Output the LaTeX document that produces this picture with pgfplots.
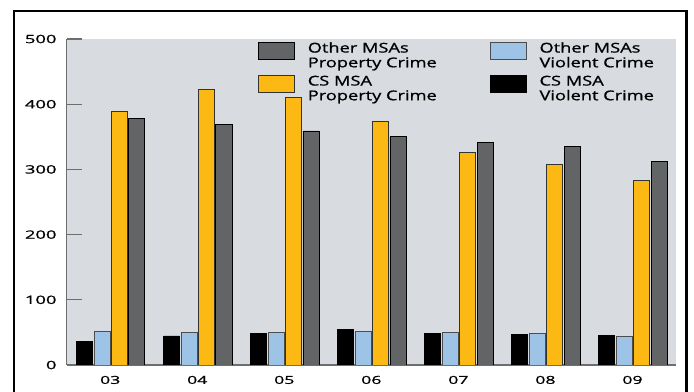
\documentclass[border=0pt]{standalone}
\usepackage{pgfplots}
\pgfplotsset{compat=1.18}
\usepackage{fontspec}
\setmainfont{Open Sans}[FakeStretch=1.35,FakeBold=1.0]
\newfontfamily\tickfont{Open Sans}[FakeStretch=1.6,FakeBold=1.0]
\definecolor{bgc}{RGB}{216,220,224}
\definecolor{cgray}{RGB}{99,100,102}
\definecolor{cyel}{RGB}{252,185,20}
\definecolor{cblue}{RGB}{157,195,230}
\definecolor{axc}{RGB}{110,110,110}
\pgfplotsset{mylegend/.style={legend image code/.code={\draw[##1] (0bp,-4bp) rectangle (36bp,13bp);}}}
\begin{document}
\begin{tikzpicture}
\useasboundingbox (-66.7bp,-27bp) rectangle (627.3bp,365bp);
\begin{axis}[
  at={(0,0)}, anchor=south west,
  scale only axis, width=609.3bp, height=326bp,
  xmin=-0.5, xmax=6.5, ymin=0, ymax=500,
  axis lines=left, axis line style={-, draw=axc, line width=1.2bp},
  axis background/.style={fill=bgc},
  tick align=inside,
  ytick={0,100,...,500},
  ytick style={draw=axc, line width=1.2bp},
  major tick length=15bp,
  yticklabel style={inner sep=0pt, xshift=-10bp, font=\fontsize{11.5bp}{13bp}\tickfont},
  xtick={0,...,6},
  xticklabels={03,04,05,06,07,08,09},
  xtick style={draw=none},
  xticklabel style={inner sep=0pt, yshift=-10.7bp, font=\fontsize{11bp}{13bp}\tickfont},
  extra x ticks={0.5,1.5,...,6.5},
  extra x tick labels={},
  extra x tick style={major tick length=8bp, tick style={draw=axc, line width=1.2bp}},
  /pgf/number format/assume math mode=true,
  legend columns=2,
  legend style={at={(rel axis cs:0.314,0.996)}, anchor=north west, draw=none, fill=none,
    inner sep=0pt, outer sep=0pt, font=\fontsize{13.5bp}{14.7bp}\selectfont,
    cells={align=left, inner sep=0pt},
    /tikz/every odd column/.append style={column sep=11bp},
    /tikz/every even column/.append style={column sep=51bp},
    row sep=3bp},
  legend cell align=left,
]
\addplot[ybar, bar width=0.184, bar shift=0.306, fill=cgray, draw=black, line width=0.8bp, mylegend]
  coordinates {(0,378.4) (1,369) (2,359) (3,350) (4,341.5) (5,335) (6,312)};
\addlegendentry{Other MSAs\\Property Crime}
\addplot[ybar, bar width=0.184, bar shift=-0.094, fill=cblue, draw=black!70, line width=0.8bp, mylegend]
  coordinates {(0,52) (1,50) (2,50.6) (3,51.7) (4,50) (5,48.6) (6,44)};
\addlegendentry{Other MSAs\\Violent Crime}
\addplot[ybar, bar width=0.184, bar shift=0.105, fill=cyel, draw=black!80, line width=0.8bp, mylegend]
  coordinates {(0,388.5) (1,423) (2,410) (3,373) (4,326) (5,308) (6,283)};
\addlegendentry{CS MSA\\Property Crime}
\addplot[ybar, bar width=0.184, bar shift=-0.295, fill=black, draw=black, line width=0.8bp, mylegend]
  coordinates {(0,36) (1,44.5) (2,48) (3,55) (4,49) (5,47.5) (6,45.5)};
\addlegendentry{CS MSA\\Violent Crime}
\end{axis}
\draw[line width=2.5bp] (-52.7bp,-60bp) -- (-52.7bp,354bp) -- (619.8bp,354bp) -- (619.8bp,-60bp);
\end{tikzpicture}
\end{document}
